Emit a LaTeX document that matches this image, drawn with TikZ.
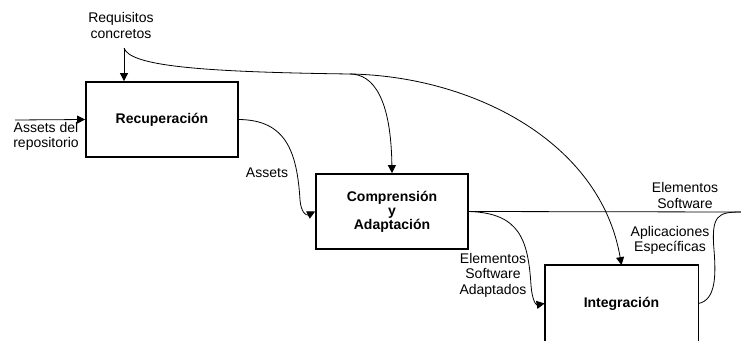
\documentclass[tikz,border=0pt]{standalone}
\usepackage{fontspec}
\setmainfont{Liberation Sans}
\usetikzlibrary{arrows.meta}
\begin{document}
\begin{tikzpicture}[x=1pt,y=-1pt,
  boxline/.style={line width=1.8pt},
  box/.style={draw,boxline,minimum width=152pt,minimum height=75pt,inner sep=0pt,font=\fontsize{14}{16}\selectfont\bfseries,align=center},
  lbl/.style={font=\fontsize{14}{15.5}\selectfont,align=center,inner sep=0pt},
  conn/.style={line width=0.8pt},
  arr/.style={conn,-{Triangle[length=8pt,width=8pt]}}]
\useasboundingbox (0,0) rectangle (741,340);
\clip (0,0) rectangle (741,340);
\fill[white] (0,0) rectangle (741,340);
% boxes
\node[box] (rec) at (162,119.5) {Recuperación};
\node[box] (comp) at (392,211.5) {Comprensión\\[-2pt]y\\[-2pt]Adaptación};
\node[box,draw=none] (integ) at (621.5,303.5) {Integración};
\draw[boxline] ([yshift=-12pt]integ.south west) -- (integ.north west) -- (integ.north east) -- ([yshift=-12pt]integ.south east);
% free ends
\coordinate (src) at (15,120);
\coordinate (req) at (124,48);
\coordinate (split) at (350,74);
\coordinate (out) at (741,212);
% labels
\node[lbl] (lreq) at (121,25.5) {Requisitos\\concretos};
\node[lbl] (lsrc) at (46,136.5) {Assets del\\repositorio};
\node[lbl] (lassets) at (267,173) {Assets};
\node[lbl] (lesa) at (493,275) {Elementos\\Software\\Adaptados};
\node[lbl] (les) at (685,195.5) {Elementos\\Software};
\node[lbl] (lapl) at (670,240.5) {Aplicaciones\\Específicas};
% connectors
\draw[arr] (src) -- (rec.west);
\draw[arr] (req) -- (req |- rec.north);
\draw[conn] (req) .. controls (130,66) and (200,72) .. (split);
\draw[arr] (split) .. controls (374,74) and (391,100) .. (comp.north);
\draw[arr] (split) .. controls (470,76) and (600,140) .. (integ.north);
\draw[arr] (rec.east) .. controls (285,120) and (297,150) .. (300,200) .. controls (301,212) and (306,216) .. (comp.west);
\draw[conn] (comp.east) -- (out);
\draw[arr] (comp.east) .. controls (520,213) and (528,240) .. (531,285) .. controls (532,300) and (536,305) .. (integ.west);
\draw[conn] (integ.east) .. controls (716,300) and (716,275) .. (714,250) .. controls (711,215) and (718,212) .. (out);
\end{tikzpicture}
\end{document}
